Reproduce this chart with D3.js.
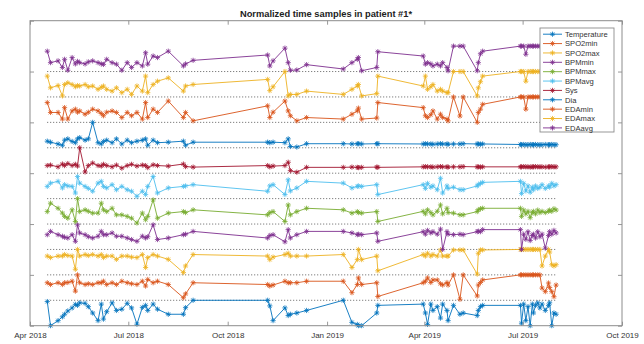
<!DOCTYPE html>
<html>
<head>
<meta charset="utf-8">
<script src="https://cdn.jsdelivr.net/npm/d3@7"></script>
<style>
  html, body { margin: 0; padding: 0; background: #fff; }
  svg { display: block; font-family: "Liberation Sans", Arial, sans-serif; }
</style>
</head>
<body>
<svg id="chart" width="644" height="344"></svg>
<script>
// Sample timestamps shared by every normalized signal
const sampleDates = [
  "2018-04-17","2018-04-20","2018-04-27","2018-05-01","2018-05-03","2018-05-06","2018-05-10","2018-05-13",
  "2018-05-15","2018-05-17","2018-05-22","2018-05-25","2018-05-29","2018-06-03","2018-06-06","2018-06-08",
  "2018-06-11","2018-06-16","2018-06-20","2018-06-25","2018-06-30","2018-07-04","2018-07-09","2018-07-14",
  "2018-07-17","2018-07-19","2018-07-24","2018-07-28","2018-08-07","2018-08-21","2018-08-23","2018-08-30",
  "2018-11-07","2018-11-09","2018-11-12","2018-11-23","2018-11-26","2018-11-28","2018-12-04","2018-12-13",
  "2019-01-16","2019-01-24","2019-01-29","2019-01-30","2019-02-02","2019-02-16","2019-02-17",
  "2019-03-31","2019-04-02","2019-04-04","2019-04-07","2019-04-09","2019-04-13","2019-04-16","2019-04-18",
  "2019-04-22","2019-04-23","2019-04-28","2019-05-04","2019-05-07","2019-05-20","2019-05-21","2019-05-23","2019-05-25",
  "2019-06-29","2019-06-30","2019-07-02","2019-07-04","2019-07-06","2019-07-08","2019-07-10","2019-07-11",
  "2019-07-13","2019-07-15","2019-07-17","2019-07-19","2019-07-22","2019-07-25","2019-07-26","2019-07-28",
  "2019-07-30","2019-08-01"
];

// Normalized values (0..1) per signal
const temperature = [
  0.95,0.0,0.2,0.35,0.45,0.58,0.7,0.84,0.8,0.9,0.88,0.75,0.5,0.2,0.85,0.26,0.55,0.9,0.6,0.65,0.88,0.7,0.06,0.72,0.8,0.6,0.85,0.65,0.45,0.45,0.71,1.0,
  1.0,0.78,0.2,0.7,0.4,0.45,0.5,0.6,
  1.0,0.13,0.05,0.0,0.0,0.5,0.8,
  0.85,0.5,0.05,0.85,0.6,0.75,0.3,0.85,0.6,0.2,0.8,0.45,0.5,0.4,0.6,0.75,0.8,
  0.8,0.1,0.85,0.2,0.75,0.0,0.85,0.5,0.8,0.9,0.7,0.85,0.6,0.8,0.9,0.0,0.5,0.45
];
const spo2Min = [
  0.69,0.62,0.69,0.62,0.69,0.7,0.75,0.36,1.0,0.69,0.62,0.65,0.62,0.69,0.69,0.75,0.62,0.69,0.62,0.75,0.69,0.65,0.62,0.75,0.56,0.82,0.69,0.75,0.62,0.1,0.25,0.69,
  0.62,0.56,0.6,0.75,0.69,0.69,0.69,0.75,
  0.75,0.3,0.62,0.88,0.62,0.69,0.15,
  0.69,0.75,0.88,0.7,0.8,0.8,0.65,0.6,0.7,0.6,1.0,0.04,1.0,0.17,0.6,0.7,0.8,
  1,1,1,1,1,1,1,1,1,1,1,0.48,0.34,0.68,0.5,0.34,0.14,0.6
];
const spo2Max = [
  0.74,0.68,0.74,0.74,0.8,0.76,0.74,0.22,1.0,0.74,0.8,0.76,0.8,0.74,0.8,0.68,0.74,0.74,0.61,0.74,0.74,0.7,0.68,0.8,0.29,0.68,0.8,0.74,0.61,0.09,0.35,0.8,
  0.74,0.6,0.7,0.8,0.85,0.74,0.74,0.74,
  0.8,0.29,0.6,1.0,0.6,0.74,0.16,
  0.8,0.74,0.85,0.74,0.8,0.74,0.98,0.74,0.74,0.74,0.98,0.98,0.98,0.03,0.85,0.98,0.98,
  1,1,1,1,1,1,1,1,1,1,1,0.35,0.74,1.0,0.9,0.4,0.35,0.4
];
const bpmMin = [
  0.58,0.71,0.58,0.52,0.48,0.45,0.58,0.32,0.97,0.65,0.58,0.5,0.45,0.52,0.71,0.58,0.58,0.65,0.52,0.52,0.45,0.39,0.32,0.52,0.45,0.5,0.97,0.39,0.45,0.58,0.6,0.71,
  0.45,0.55,0.58,0.3,0.78,0.45,0.58,0.71,
  0.71,0.65,0.58,0.6,0.58,0.65,0.32,
  0.7,0.6,0.75,0.65,0.7,0.6,0.8,0.0,0.7,0.6,0.58,0.6,0.58,0.7,0.72,0.7,0.78,
  0.78,0.0,0.6,0.4,0.7,0.35,0.55,0.6,0.45,0.7,0.5,0.6,0.05,0.55,0.7,0.6,0.75,0.65
];
const bpmMax = [
  0.49,0.82,0.62,0.43,0.3,0.23,0.56,0.1,1.0,0.49,0.56,0.5,0.43,0.43,0.82,0.56,0.49,0.62,0.36,0.36,0.3,0.23,0.04,0.43,0.17,0.3,0.95,0.23,0.43,0.49,0.45,0.56,
  0.36,0.45,0.49,0.1,0.75,0.36,0.49,0.62,
  0.56,0.43,0.49,0.45,0.43,0.49,0.1,
  0.5,0.4,0.56,0.45,0.36,0.5,0.75,0.4,0.62,0.45,0.43,0.36,0.36,0.49,0.56,0.6,0.62,
  0.62,0.3,0.55,0.4,0.5,0.25,0.45,0.5,0.4,0.55,0.45,0.5,0.45,0.5,0.55,0.5,0.6,0.55
];
const bpmAvg = [
  0.48,0.61,0.68,0.42,0.55,0.5,0.48,0.22,0.87,0.61,0.48,0.4,0.29,0.61,0.68,0.48,0.42,0.55,0.35,0.48,0.35,0.29,0.09,0.29,0.16,0.48,0.87,0.22,0.42,0.48,0.5,0.55,
  0.29,0.5,0.55,0.16,0.74,0.3,0.42,0.68,
  0.61,0.42,0.48,0.5,0.48,0.55,0.16,
  0.55,0.4,0.6,0.45,0.5,0.35,0.8,0.22,0.5,0.4,0.45,0.35,0.35,0.5,0.55,0.6,0.64,
  0.68,0.2,0.6,0.3,0.5,0.25,0.45,0.35,0.5,0.4,0.45,0.55,0.4,0.5,0.45,0.6,0.5,0.55
];
const sys = [
  0.3,0.32,0.25,0.36,0.3,0.38,0.3,0.35,0.28,1.0,0.05,0.3,0.4,0.3,0.28,0.35,0.3,0.25,0.32,0.2,0.3,0.35,0.28,0.32,0.3,0.22,0.33,0.3,0.28,0.36,0.26,0.24,
  0.3,0.25,0.28,0.3,0.43,0.1,0.04,0.23,
  0.23,0.24,0.23,0.22,0.23,0.24,0.23,
  0.25,0.26,0.25,0.25,0.24,0.25,0.26,0.25,0.25,0.24,0.25,0.25,0.26,0.25,0.25,0.24,0.25,
  0.25,0.25,0.26,0.25,0.25,0.24,0.25,0.25,0.26,0.25,0.25,0.25,0.24,0.25,0.25,0.26,0.25,0.25
];
const dia = [
  0.26,0.22,0.15,0.1,0.3,0.35,0.25,0.2,0.35,0.4,0.3,0.35,1.0,0.2,0.15,0.25,0.3,0.2,0.35,0.15,0.3,0.2,0.26,0.3,0.35,0.1,0.3,0.2,0.22,0.26,0.1,0.22,
  0.22,0.2,0.22,0.2,0.35,0.05,0.03,0.16,
  0.16,0.15,0.16,0.16,0.15,0.16,0.16,
  0.15,0.16,0.15,0.15,0.14,0.15,0.16,0.15,0.15,0.14,0.15,0.15,0.16,0.15,0.15,0.14,0.15,
  0.13,0.12,0.13,0.12,0.12,0.13,0.12,0.12,0.13,0.12,0.12,0.12,0.13,0.12,0.12,0.13,0.12,0.12
];
const edaMin = [
  0.78,0.39,0.39,0.13,0.58,0.13,0.45,0.52,0.4,0.45,0.32,0.4,0.52,0.45,0.35,0.26,0.4,0.45,0.39,0.19,0.39,0.26,0.39,0.13,0.78,0.19,0.52,0.39,0.84,0.19,0.39,0.06,
  0.65,0.19,0.4,0.84,0.45,0.26,0.06,0.19,
  0.13,0.32,0.45,0.56,0.13,0.17,0.78,
  0.58,0.26,0.19,0.3,0.45,0.13,0.32,0.19,0.13,0.06,1.0,0.25,1.0,0.0,0.39,0.52,0.71,
  1,1,1,0.52,1,1,1,1,1,1,1,1,1,1,1,1,1,1
];
const edaMax = [
  0.82,0.36,0.45,0.04,0.49,0.56,0.49,0.4,0.45,0.43,0.49,0.4,0.43,0.3,0.38,0.43,0.3,0.23,0.36,0.17,0.3,0.1,0.43,0.23,0.82,0.17,0.49,0.62,0.75,0.23,0.43,0.49,
  0.69,0.25,0.4,1.0,0.04,0.1,0.1,0.23,
  0.1,0.3,0.43,0.49,0.04,0.13,0.82,
  0.43,0.82,0.3,0.4,0.49,0.23,0.3,0.23,0.17,0.17,1.0,1.0,1.0,0.04,0.36,0.6,0.82,
  1,1,1,0.62,1,1,1,1,1,1,1,1,1,1,1,1,1,1
];
const edaAvg = [
  0.8,0.35,0.42,0.16,0.48,0.05,0.55,0.3,0.4,0.35,0.3,0.38,0.42,0.35,0.3,0.28,0.48,0.35,0.29,0.05,0.35,0.16,0.35,0.22,0.74,0.29,0.61,0.55,0.8,0.22,0.3,0.44,
  0.65,0.22,0.42,0.92,0.35,0.05,0.06,0.27,
  0.1,0.35,0.48,0.55,0.03,0.16,0.78,
  0.61,0.29,0.35,0.3,0.22,0.29,0.22,0.35,0.16,0.03,1.0,1.0,1.0,0.03,0.35,0.7,0.8,
  1,1,1,0.68,1,1,1,1,1,1,1,1,1,1,1,1,1,1
];

const seriesNames = ["Temperature","SPO2min","SPO2max","BPMmin","BPMmax","BPMavg","Sys","Dia","EDAmin","EDAmax","EDAavg"];
const seriesValues = [temperature, spo2Min, spo2Max, bpmMin, bpmMax, bpmAvg, sys, dia, edaMin, edaMax, edaAvg];
const seriesColors = ["#0072BD","#D95319","#EDB120","#7E2F8E","#77AC30","#4DBEEE","#A2142F","#0072BD","#D95319","#EDB120","#7E2F8E"];

const xTickDates = ["2018-04-01","2018-07-01","2018-10-01","2019-01-01","2019-04-01","2019-07-01","2019-10-01"];
const xTickLabels = ["Apr 2018","Jul 2018","Oct 2018","Jan 2019","Apr 2019","Jul 2019","Oct 2019"];
const yTickValues = [0, 2, 4, 6, 8, 10, 12];
const chartTitle = "Normalized time samples in patient #1*";

const parse = d3.utcParse("%Y-%m-%d");
const dates = sampleDates.map(parse);

const plot = { left: 30, right: 622, top: 20.7, bottom: 325.7 };
const svg = d3.select("#chart");

const x = d3.scaleUtc()
  .domain([parse("2018-04-01"), parse("2019-10-01")])
  .range([plot.left, plot.right]);
const y = d3.scaleLinear()
  .domain([0, 12])
  .range([plot.bottom, plot.top]);

svg.append("defs").append("clipPath").attr("id", "plotClip")
  .append("rect")
  .attr("x", plot.left).attr("y", plot.top - 3)
  .attr("width", plot.right - plot.left).attr("height", plot.bottom - plot.top + 6);

// Dotted separators between the stacked signals
const sepGroup = svg.append("g");
d3.range(1, seriesValues.length).forEach(k => {
  sepGroup.append("line")
    .attr("x1", x(dates[0])).attr("x2", x(dates[dates.length - 1]))
    .attr("y1", y(k)).attr("y2", y(k))
    .attr("stroke", "#3a3a3a").attr("stroke-width", 0.9)
    .attr("stroke-dasharray", "0.9,2.1");
});

function asterisk(cx, cy, r) {
  const q = r * 0.72;
  return `M${cx - r},${cy}H${cx + r}M${cx},${cy - r}V${cy + r}` +
         `M${cx - q},${cy - q}L${cx + q},${cy + q}M${cx - q},${cy + q}L${cx + q},${cy - q}`;
}

// Each signal is offset by its index so the bands stack vertically
const dataGroup = svg.append("g").attr("clip-path", "url(#plotClip)");
seriesValues.forEach((vals, i) => {
  const pts = vals.map((v, j) => ({ date: dates[j], value: i + v }));
  const line = d3.line().x(d => x(d.date)).y(d => y(d.value));
  const g = dataGroup.append("g");
  g.append("path")
    .attr("d", line(pts))
    .attr("fill", "none")
    .attr("stroke", seriesColors[i])
    .attr("stroke-width", 0.9)
    .attr("stroke-linejoin", "round");
  g.append("path")
    .attr("d", pts.map(d => asterisk(x(d.date), y(d.value), 2.6)).join(""))
    .attr("fill", "none")
    .attr("stroke", seriesColors[i])
    .attr("stroke-width", 0.8);
});

// Axes box with inward ticks on all four sides
const axisColor = "#8c8c8c";
const xTicks = xTickDates.map(parse);
const fmt = d => xTickLabels[xTicks.findIndex(t => +t === +d)];

const xBottom = svg.append("g")
  .attr("transform", `translate(0,${plot.bottom})`)
  .call(d3.axisBottom(x).tickValues(xTicks).tickFormat(fmt).tickSizeInner(-4).tickSizeOuter(0).tickPadding(6.5));
const xTop = svg.append("g")
  .attr("transform", `translate(0,${plot.top})`)
  .call(d3.axisTop(x).tickValues(xTicks).tickFormat("").tickSizeInner(-4).tickSizeOuter(0));
const yLeft = svg.append("g")
  .attr("transform", `translate(${plot.left},0)`)
  .call(d3.axisLeft(y).tickValues(yTickValues).tickFormat("").tickSizeInner(-4).tickSizeOuter(0));
const yRight = svg.append("g")
  .attr("transform", `translate(${plot.right},0)`)
  .call(d3.axisRight(y).tickValues(yTickValues).tickFormat("").tickSizeInner(-4).tickSizeOuter(0));

[xBottom, xTop, yLeft, yRight].forEach(g => {
  g.select(".domain").remove();
  g.selectAll(".tick line").attr("stroke", axisColor).attr("stroke-width", 0.9);
});
xBottom.selectAll(".tick text")
  .attr("fill", "#333").attr("font-size", "8px");

svg.append("rect")
  .attr("x", plot.left).attr("y", plot.top)
  .attr("width", plot.right - plot.left).attr("height", plot.bottom - plot.top)
  .attr("fill", "none").attr("stroke", axisColor).attr("stroke-width", 1);

// Title
svg.append("text")
  .attr("x", (plot.left + plot.right) / 2).attr("y", 16.5)
  .attr("text-anchor", "middle")
  .attr("font-size", "9.3px").attr("font-weight", "bold").attr("fill", "#222")
  .text(chartTitle);

// Legend
const lg = { x: 540, y: 28, w: 74, h: 104, row: 9.37, first: 34.2 };
const legend = svg.append("g");
legend.append("rect")
  .attr("x", lg.x).attr("y", lg.y).attr("width", lg.w).attr("height", lg.h)
  .attr("fill", "#fff").attr("stroke", "#8c8c8c").attr("stroke-width", 0.9);
seriesNames.forEach((name, i) => {
  const yy = lg.first + i * lg.row;
  legend.append("line")
    .attr("x1", lg.x + 3).attr("x2", lg.x + 22).attr("y1", yy).attr("y2", yy)
    .attr("stroke", seriesColors[i]).attr("stroke-width", 0.9);
  legend.append("path")
    .attr("d", asterisk(lg.x + 12.5, yy, 2.6))
    .attr("fill", "none").attr("stroke", seriesColors[i]).attr("stroke-width", 0.8);
  legend.append("text")
    .attr("x", lg.x + 25).attr("y", yy + 2.8)
    .attr("font-size", "7.6px").attr("fill", "#333")
    .text(name);
});
</script>
</body>
</html>
